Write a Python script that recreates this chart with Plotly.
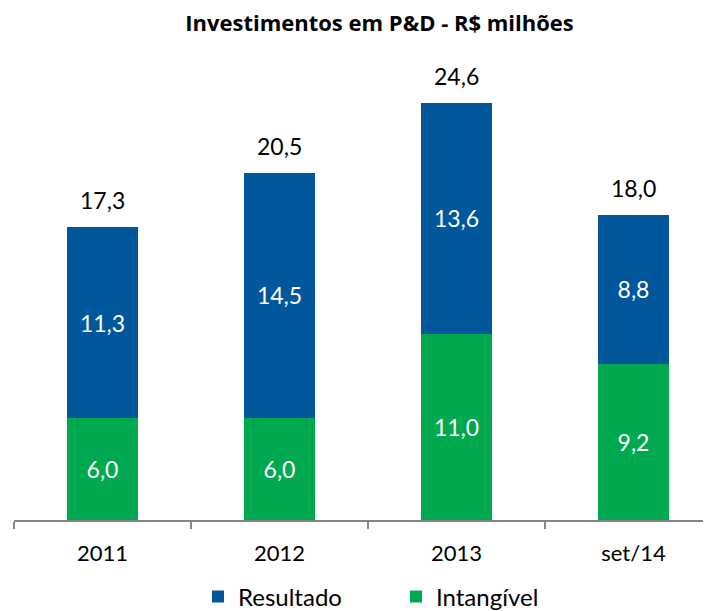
import plotly.graph_objects as go

categories = ["2011", "2012", "2013", "set/14"]
resultado = [11.3, 14.5, 13.6, 8.8]
intangivel = [6.0, 6.0, 11.0, 9.2]
totais = [17.3, 20.5, 24.6, 18.0]

BLUE = "#00579B"
GREEN = "#00A94F"
FONT = "Lato, 'Open Sans', sans-serif"

# page body has an 8px margin: figure coordinates = reference pixels - 8
OFF = 8
PX_PER_UNIT = 16.95
PLOT_H = 460
BASE = 520 - OFF
LEFT = 14 - OFF
PLOT_W = 711 - LEFT

def fmt(v):
    return f"{v:.1f}".replace(".", ",")

fig = go.Figure()
fig.add_trace(go.Bar(
    x=categories, y=intangivel, name="Intangível", marker_color=GREEN,
    marker_line_width=0, text=[fmt(v) for v in intangivel],
    textposition="inside", insidetextanchor="middle",
    textfont=dict(color="white", size=23, family=FONT), legendrank=2,
))
fig.add_trace(go.Bar(
    x=categories, y=resultado, name="Resultado", marker_color=BLUE,
    marker_line_width=0, text=[fmt(v) for v in resultado],
    textposition="inside", insidetextanchor="middle",
    textfont=dict(color="white", size=23, family=FONT), legendrank=1,
))
for i, t in enumerate(totais):
    fig.add_annotation(x=i, y=t, text=fmt(t), showarrow=False, yanchor="bottom",
                       yshift=11, font=dict(color="black", size=23, family=FONT))

fig.update_layout(
    width=711, height=611,
    barmode="stack", bargap=0.6,
    plot_bgcolor="white", paper_bgcolor="white",
    margin=dict(l=LEFT, r=0, t=BASE - PLOT_H, b=611 - BASE, autoexpand=False),
    font=dict(family=FONT, size=22, color="black"),
    title=dict(text="<b>Investimentos em P&D - R$ milhões</b>", x=(379.5 - OFF) / 711, xanchor="center",
               y=1 - (23 - OFF) / 611, yanchor="middle",
               font=dict(size=22, family="'Open Sans', sans-serif")),
    legend=dict(orientation="h", x=(206 - OFF - LEFT - 8) / PLOT_W, xanchor="left", y=-77 / PLOT_H,
                yanchor="middle", font=dict(size=24, family=FONT), itemwidth=30,
                entrywidth=153, traceorder="normal", tracegroupgap=0),
    showlegend=True,
)
fig.update_xaxes(
    type="category",
    range=[-0.5, -0.5 + PLOT_W / 177], showline=True, linecolor="#868686", linewidth=2,
    ticks="outside", tickson="boundaries", ticklen=7, tickwidth=2, tickcolor="#868686",
    showgrid=False, tickfont=dict(size=22, family=FONT), ticklabelstandoff=13,
)
fig.update_yaxes(range=[0, PLOT_H / PX_PER_UNIT], visible=False, showgrid=False)

fig.write_html("out.html")
